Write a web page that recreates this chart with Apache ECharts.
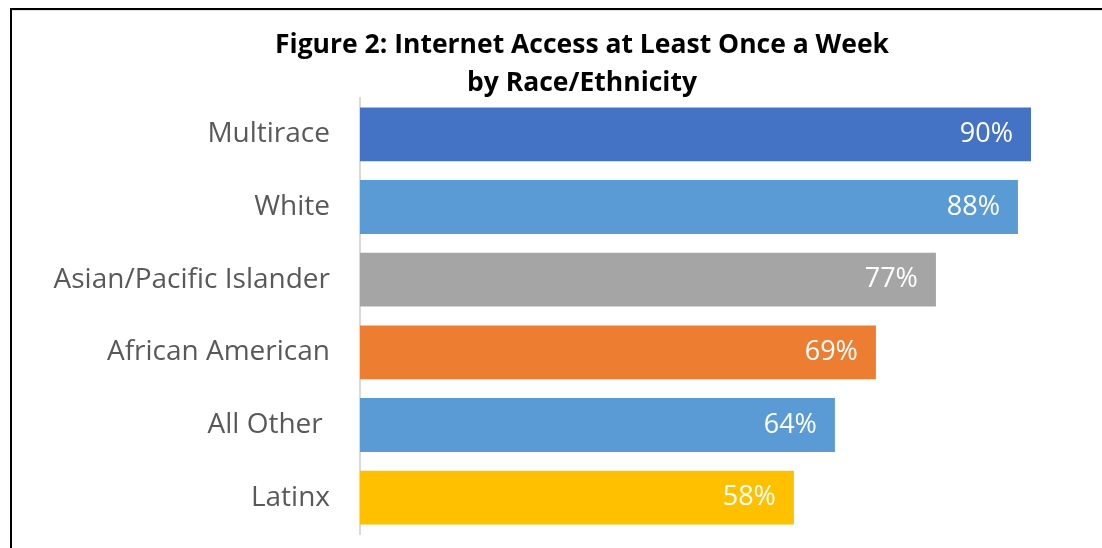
<!DOCTYPE html>
<html>
<head>
<meta charset="utf-8">
<script src="https://cdn.jsdelivr.net/npm/echarts@6/dist/echarts.min.js"></script>
<style>html,body{margin:0;padding:0;background:#fff;}#c{width:1102px;height:548px;}</style>
</head>
<body>
<div id="c"></div>
<script>
var categories = ['Multirace', 'White', 'Asian/Pacific Islander', 'African American', 'All Other ', 'Latinx'];
var values = [90, 88.25, 77.25, 69.2, 63.7, 58.2];
var colors = ['#4472C4', '#5B9BD5', '#A5A5A5', '#ED7D31', '#5B9BD5', '#FFC000'];
var titleText = 'Figure 2: Internet Access at Least Once a Week\nby Race/Ethnicity';

var chart = echarts.init(document.getElementById('c'), null, {renderer: 'canvas'});
var font = '"Open Sans", "Noto Sans", sans-serif';
chart.setOption({
  animation: false,
  backgroundColor: '#fff',
  title: {
    text: titleText,
    left: 577, top: 21, textAlign: 'center',
    textStyle: {fontFamily: font, fontSize: 26.5, fontWeight: 'bold', color: '#000', lineHeight: 38}
  },
  grid: {left: 360, right: 71, top: 98, bottom: 14, containLabel: false},
  xAxis: {
    type: 'value', min: 0, max: 90, show: false
  },
  yAxis: {
    type: 'category', inverse: true, data: categories,
    axisLine: {show: true, lineStyle: {color: '#D9D9D9', width: 2}},
    axisTick: {show: false},
    axisLabel: {fontFamily: font, fontSize: 28, color: '#595959', margin: 30}
  },
  series: [{
    type: 'bar',
    barWidth: '74%',
    data: values.map(function (v, i) { return {value: v, itemStyle: {color: colors[i]}}; }),
    label: {
      show: true, position: 'insideRight', distance: 18,
      formatter: function (p) { return Math.round(p.value) + '%'; },
      fontFamily: font, fontSize: 27, color: '#fff'
    }
  }],
  graphic: [
    {type: 'line', shape: {x1: 10, y1: 10, x2: 1102, y2: 10}, style: {stroke: '#C8C8C8', lineWidth: 1}, z: 10},
    {type: 'line', shape: {x1: 11, y1: 9, x2: 1102, y2: 9}, style: {stroke: '#000', lineWidth: 2}, z: 11},
    {type: 'line', shape: {x1: 11, y1: 8, x2: 11, y2: 548}, style: {stroke: '#000', lineWidth: 2}, z: 11}
  ]
});
</script>
</body>
</html>
